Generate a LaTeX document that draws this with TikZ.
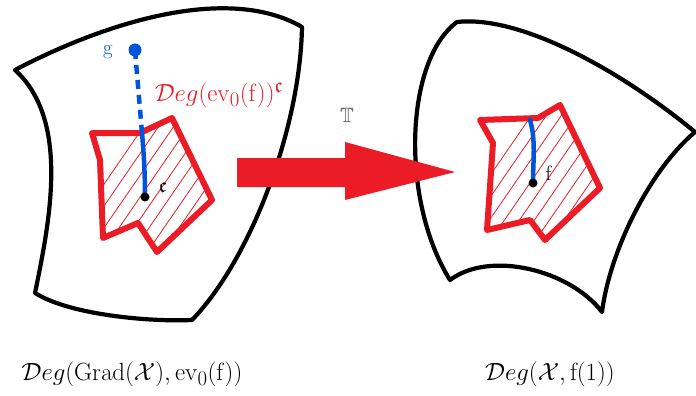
\documentclass[tikz,border=0pt]{standalone}
\usepackage{amsmath,amssymb}
\usepackage{tikz}
\usetikzlibrary{calc}
\definecolor{sketchred}{rgb}{0.92,0.11,0.15}
\definecolor{sketchblue}{rgb}{0.0,0.33,0.86}
\definecolor{labelgray}{rgb}{0.35,0.35,0.35}

\begin{document}
\begin{tikzpicture}[x=1pt,y=-1pt,
    blob/.style={line width=4.2pt, line join=round, line cap=round},
    region/.style={draw=sketchred, line width=6pt, line join=round},
    hatch/.style={sketchred, line width=0.8pt},
    bluestroke/.style={sketchblue, line width=4.5pt, line cap=round}]
    \useasboundingbox (0,0) rectangle (696,396);
    % Left space
    \draw[blob] (15,70) .. controls (110,20) and (230,-15) .. (302,27)
      .. controls (300,130) and (250,260) .. (192,320)
      .. controls (150,322) and (70,315) .. (35,293)
      .. controls (50,220) and (70,120) .. (15,70);
    % Right space
    \draw[blob] (457,22) .. controls (520,15) and (620,70) .. (695,132)
      .. controls (650,170) and (610,250) .. (602,312)
      .. controls (570,270) and (490,250) .. (450,280)
      .. controls (400,200) and (405,60) .. (457,22);
    % Left region, hatched
    \begin{scope}
      \clip (92,133) -- (140,133) -- (172,118) -- (212,200) -- (157,252)
        -- (138,223) -- (103,238) -- (100,160) -- cycle;
      \foreach \k in {0,...,7}
        \draw[hatch] (45+\k*15,270) -- ++(110,-160);
    \end{scope}
    \draw[region] (92,133) -- (140,133) -- (172,118) -- (212,200) -- (157,252)
      -- (138,223) -- (103,238) -- (100,160) -- cycle;
    % Right region, hatched
    \begin{scope}
      \clip (480,120) -- (538,118) -- (560,105) -- (600,188) -- (545,240)
        -- (530,220) -- (487,230) -- (493,143) -- cycle;
      \foreach \k in {0,...,7}
        \draw[hatch] (432+\k*15,260) -- ++(110,-160);
    \end{scope}
    \draw[region] (480,120) -- (538,118) -- (560,105) -- (600,188) -- (545,240)
      -- (530,220) -- (487,230) -- (493,143) -- cycle;
    % Points
    \coordinate (g) at (135,50);
    \coordinate (entry) at (142,133);
    \coordinate (c) at (145,197);
    \coordinate (fentry) at (530,120);
    \coordinate (f) at (533,183);
    % Blue paths
    \draw[bluestroke, line cap=butt, dash pattern=on 9pt off 6pt] (g) -- (entry);
    \draw[bluestroke] (entry) .. controls (144,155) and (145,175) .. (c);
    \draw[bluestroke] (fentry) .. controls (536,140) and (533,160) .. (f);
    \fill[sketchblue] (g) circle (6.5pt);
    \fill (c) circle (4.5pt);
    \fill (f) circle (4.5pt);
    % Labels
    \node[text=sketchblue, font=\huge] (glabel) at (108,52) {$\mathrm{g}$};
    \node[text=sketchred, font=\Huge] (complement) at (219,95)
      {$\mathcal{D}eg(\mathrm{ev}_0(\mathrm{f}))^{\mathfrak{c}}$};
    \node[font=\huge] (clabel) at (163,188) {$\mathfrak{c}$};
    \node[font=\huge] (flabel) at (549,173) {$\mathrm{f}$};
    % Map arrow
    \fill[sketchred] (237,158) -- (345,158) -- (345,142) -- (455,172)
      -- (345,200) -- (345,187) -- (237,187) -- cycle;
    \node[text=labelgray, font=\huge] (map) at (347,115) {$\mathbb{T}$};
    % Names of the spaces
    \node[font=\Huge] (leftname) at (132,374)
      {$\mathcal{D}eg(\mathrm{Grad}(\mathcal{X}),\mathrm{ev}_0(\mathrm{f}))$};
    \node[font=\Huge] (rightname) at (550,374)
      {$\mathcal{D}eg(\mathcal{X},\mathrm{f}(1))$};
\end{tikzpicture}
\end{document}
